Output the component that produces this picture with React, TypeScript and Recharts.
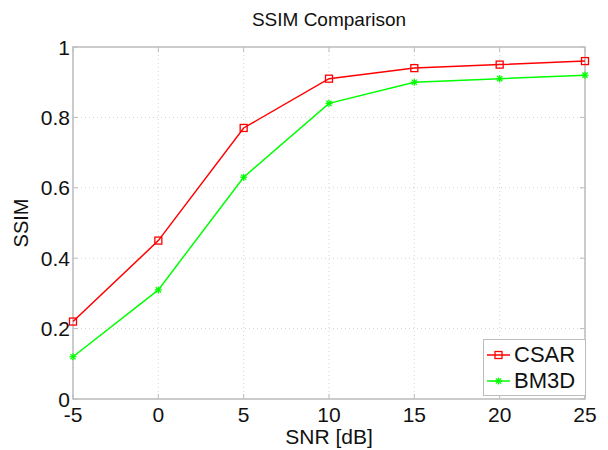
import React from 'react';
import { LineChart, Line, XAxis, YAxis, CartesianGrid, ReferenceArea, Label } from 'recharts';

const snr = [-5, 0, 5, 10, 15, 20, 25];
const csar = [0.22, 0.45, 0.77, 0.91, 0.94, 0.95, 0.96];
const bm3d = [0.12, 0.31, 0.63, 0.84, 0.90, 0.91, 0.92];
const xTicks = [-5, 0, 5, 10, 15, 20, 25];
const yTicks = [0, 0.2, 0.4, 0.6, 0.8, 1];

const data = snr.map((s, i) => ({ snr: s, csar: csar[i], bm3d: bm3d[i] }));

const FONT = 'Arial, "Liberation Sans", sans-serif';
const AXIS_GRAY = '#bdbdbd';
const W = 608;
const H = 450;
const M = { top: 47, right: 23, left: 73, bottom: 51 };
const PLOT_W = W - M.left - M.right;
const PLOT_H = H - M.top - M.bottom;

const SquareDot = (props: any) => {
  const { cx, cy } = props;
  if (cx == null || cy == null) return null;
  return <rect x={cx - 3.5} y={cy - 3.5} width={7} height={7} fill="none" stroke="#ff0000" strokeWidth={1.3} />;
};

const StarDot = (props: any) => {
  const { cx, cy } = props;
  if (cx == null || cy == null) return null;
  const r = 3.5;
  return (
    <g stroke="#00ff00" strokeWidth={1.3}>
      <line x1={cx - r} y1={cy} x2={cx + r} y2={cy} />
      <line x1={cx} y1={cy - r} x2={cx} y2={cy + r} />
      <line x1={cx - 2.6} y1={cy - 2.6} x2={cx + 2.6} y2={cy + 2.6} />
      <line x1={cx - 2.6} y1={cy + 2.6} x2={cx + 2.6} y2={cy - 2.6} />
    </g>
  );
};

// label + inward tick marks on both sides of the box, matlab style
const XTick = (props: any) => {
  const { x, y, payload } = props;
  return (
    <g>
      <line x1={x} y1={y} x2={x} y2={y - 5} stroke={AXIS_GRAY} />
      <line x1={x} y1={y - PLOT_H} x2={x} y2={y - PLOT_H + 5} stroke={AXIS_GRAY} />
      <text x={x} y={y + 23} textAnchor="middle" fontSize={21} fontFamily={FONT} fill="#111">
        {payload.value}
      </text>
    </g>
  );
};

const YTick = (props: any) => {
  const { x, y, payload } = props;
  return (
    <g>
      <line x1={x} y1={y} x2={x + 5} y2={y} stroke={AXIS_GRAY} />
      <line x1={x + PLOT_W} y1={y} x2={x + PLOT_W - 5} y2={y} stroke={AXIS_GRAY} />
      <text x={x - 3} y={y + 7.5} textAnchor="end" fontSize={21} fontFamily={FONT} fill="#111">
        {payload.value}
      </text>
    </g>
  );
};

const legendItems = [
  { name: 'CSAR', color: '#ff0000', star: false },
  { name: 'BM3D', color: '#00ff00', star: true },
];

const LegendBox = () => (
  <div
    style={{
      position: 'absolute',
      left: 483,
      top: 339,
      border: `1px solid ${AXIS_GRAY}`,
      background: '#fff',
      width: 103,
      height: 57,
      fontFamily: FONT,
      fontSize: 22,
      color: '#111',
      boxSizing: 'border-box',
      padding: '2px 0 0 3px',
    }}
  >
    {legendItems.map((e) => (
      <div key={e.name} style={{ display: 'flex', alignItems: 'center', height: 26 }}>
        <svg width={24} height={12} style={{ marginRight: 3 }}>
          <line x1={0} y1={6} x2={23} y2={6} stroke={e.color} strokeWidth={1.5} />
          {e.star ? <StarDot cx={11.5} cy={6} /> : <SquareDot cx={11.5} cy={6} />}
        </svg>
        <span style={{ lineHeight: '26px' }}>{e.name}</span>
      </div>
    ))}
  </div>
);

export default function App() {
  return (
    <div style={{ position: 'absolute', left: 0, top: 0, width: W, height: H, background: '#fff' }}>
      <div
        style={{
          position: 'absolute',
          top: 9,
          left: 0,
          width: W,
          textAlign: 'center',
          paddingLeft: 50,
          boxSizing: 'border-box',
          fontFamily: FONT,
          fontSize: 19,
          color: '#111',
        }}
      >
        SSIM Comparison
      </div>
      <LineChart width={W} height={H} data={data} margin={{ top: M.top, right: M.right, left: 0, bottom: 0 }}>
        <CartesianGrid stroke="#d4d4d4" strokeDasharray="1 3" />
        <ReferenceArea x1={-5} x2={25} y1={0} y2={1} fill="none" stroke={AXIS_GRAY} strokeWidth={1.5} ifOverflow="visible" />
        <XAxis
          dataKey="snr"
          type="number"
          domain={[-5, 25]}
          ticks={xTicks}
          height={M.bottom}
          axisLine={false}
          tickLine={false}
          tickSize={0}
          tickMargin={0}
          tick={<XTick />}
          interval={0}
        >
          <Label value="SNR [dB]" position="insideBottom" offset={6} style={{ fontSize: 21, fontFamily: FONT, fill: '#111' }} />
        </XAxis>
        <YAxis
          type="number"
          domain={[0, 1]}
          ticks={yTicks}
          width={M.left}
          axisLine={false}
          tickLine={false}
          tickSize={0}
          tickMargin={0}
          tick={<YTick />}
          interval={0}
        >
          <Label value="SSIM" angle={-90} position="insideLeft" offset={21} style={{ fontSize: 20, fontFamily: FONT, fill: '#111', textAnchor: 'middle' }} />
        </YAxis>
        <Line dataKey="csar" name="CSAR" stroke="#ff0000" strokeWidth={1.5} dot={<SquareDot />} isAnimationActive={false} />
        <Line dataKey="bm3d" name="BM3D" stroke="#00ff00" strokeWidth={1.5} dot={<StarDot />} isAnimationActive={false} />
      </LineChart>
      <LegendBox />
    </div>
  );
}
